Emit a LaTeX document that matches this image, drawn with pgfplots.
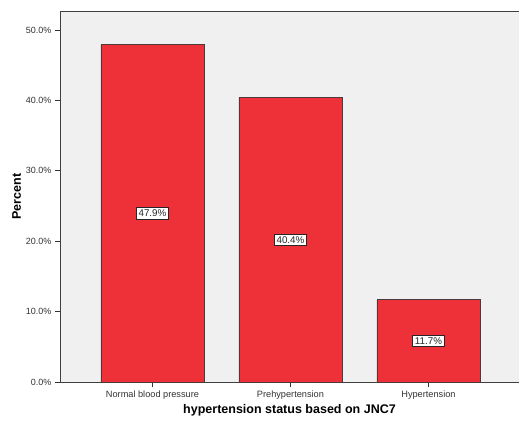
\documentclass[border=0pt]{standalone}
\usepackage{pgfplots}
\usepackage{pgfplotstable}
\pgfplotsset{compat=1.18}
\usepackage{fontspec}
\setmainfont{Liberation Sans}
\definecolor{barred}{HTML}{EE3039}
\definecolor{bargray}{HTML}{F0F0F0}
\definecolor{edge}{HTML}{4A3A3A}
\pgfplotstableread{
x v lab
0 47.9 47.9\%
1 40.4 40.4\%
2 11.7 11.7\%
}\jnc
\begin{document}
\begin{tikzpicture}[x=1pt,y=1pt]
\useasboundingbox[fill=white] (-60,-39) rectangle (459,382);
\begin{axis}[
    at={(0,0)}, anchor=south west,
    scale only axis,
    width=459pt, height=371pt,
    xmin=-0.67, xmax=2.656,
    ymin=0, ymax=52.7,
    axis background/.style={fill=bargray},
    axis line style={draw=black!75},
    xtick={0,1,2},
    xticklabels={Normal blood pressure, Prehypertension, Hypertension},
    ytick={0,10,20,30,40,50},
    yticklabels={0.0\%,10.0\%,20.0\%,30.0\%,40.0\%,50.0\%},
    tick align=outside,
    major tick length=5pt,
    tick style={black!80, line width=0.8pt},
    xtick pos=bottom, ytick pos=left,
    ticklabel style={font=\fontsize{9}{10}\selectfont, text=black!80},
    xticklabel style={font=\fontsize{9.2}{10}\selectfont},
    xlabel={\textbf{hypertension status based on JNC7}},
    ylabel={\textbf{Percent}},
    label style={font=\fontsize{12.5}{14}\selectfont},
    xlabel style={yshift=2pt},
    ylabel style={yshift=-2pt},
]
\addplot[ybar, bar width=0.746, fill=barred, draw=edge, line width=0.7pt] table[x=x, y=v] {\jnc};
\addplot[draw=none, mark=none, nodes near coords, point meta=explicit symbolic,
    every node near coord/.append style={anchor=center, fill=white, draw=black!85, line width=0.7pt,
      inner sep=2.4pt, font=\fontsize{9.8}{11}\selectfont, text=black!85}]
    table[x=x, y expr=\thisrow{v}/2, meta=lab] {\jnc};
\end{axis}
\end{tikzpicture}
\end{document}
